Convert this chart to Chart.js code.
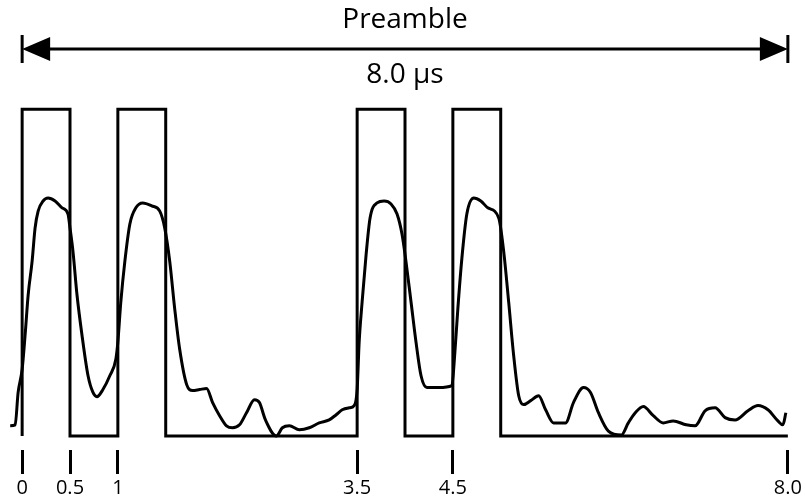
<!DOCTYPE html>
<html lang="en">
<head>
    <meta charset="UTF-8">
    <title>Preamble</title>
    <script src="https://cdn.jsdelivr.net/npm/chart.js"></script>
    <style>
        html, body { margin: 0; padding: 0; background: #fff; }
        .wrap { width: 806px; height: 504px; }
    </style>
</head>
<body>
    <div class="wrap">
        <canvas id="preambleChart" width="806" height="504"></canvas>
    </div>
    <script>
        // square pulse train (time in µs, level 0..1)
        const squareTime  = [0, 0, 0.5, 0.5, 1, 1, 1.5, 1.5, 3.5, 3.5, 4, 4, 4.5, 4.5, 5, 5, 8];
        const squareLevel = [0, 1, 1,   0,   0, 1, 1,   0,   0,   1,   1, 0, 0,   1,   1, 0, 0];

        // received waveform
        const waveTime = [-0.125, -0.073, -0.042, 0, 0.031, 0.063, 0.104, 0.135, 0.167, 0.219, 0.271, 0.344,
            0.417, 0.479, 0.5, 0.531, 0.573, 0.625, 0.688, 0.740, 0.781, 0.844, 0.917, 0.979, 1.0, 1.031,
            1.073, 1.125, 1.188, 1.260, 1.354, 1.438, 1.490, 1.542, 1.594, 1.646, 1.719, 1.781, 1.854, 1.927,
            1.990, 2.063, 2.135, 2.198, 2.271, 2.344, 2.427, 2.479, 2.542, 2.656, 2.719, 2.792, 2.896, 3.0,
            3.104, 3.208, 3.281, 3.344, 3.417, 3.469, 3.5, 3.521, 3.552, 3.594, 3.635, 3.708, 3.781, 3.854,
            3.917, 3.969, 4.010, 4.063, 4.115, 4.167, 4.229, 4.354, 4.490, 4.521, 4.552, 4.594, 4.646, 4.719,
            4.792, 4.865, 4.979, 5.031, 5.083, 5.135, 5.188, 5.240, 5.313, 5.396, 5.469, 5.552, 5.677, 5.760,
            5.865, 5.938, 6.021, 6.125, 6.260, 6.333, 6.406, 6.490, 6.594, 6.698, 6.802, 6.938, 7.031, 7.135,
            7.240, 7.344, 7.448, 7.583, 7.688, 7.792, 7.896, 7.948, 7.979];
        const waveAmp = [0.031, 0.034, 0.133, 0.204, 0.309, 0.432, 0.534, 0.636, 0.688, 0.719, 0.728, 0.719,
            0.698, 0.679, 0.636, 0.565, 0.432, 0.309, 0.185, 0.133, 0.120, 0.142, 0.185, 0.235, 0.287, 0.410,
            0.534, 0.648, 0.698, 0.713, 0.704, 0.688, 0.636, 0.534, 0.389, 0.265, 0.157, 0.139, 0.142, 0.145,
            0.102, 0.062, 0.031, 0.025, 0.034, 0.071, 0.111, 0.102, 0.049, 0.0, 0.025, 0.031, 0.019, 0.025,
            0.040, 0.049, 0.065, 0.080, 0.086, 0.093, 0.142, 0.287, 0.410, 0.556, 0.667, 0.713, 0.719, 0.710,
            0.679, 0.617, 0.534, 0.410, 0.287, 0.185, 0.148, 0.148, 0.154, 0.256, 0.389, 0.543, 0.679, 0.728,
            0.719, 0.698, 0.667, 0.565, 0.410, 0.247, 0.123, 0.096, 0.108, 0.123, 0.080, 0.040, 0.040, 0.102,
            0.148, 0.133, 0.071, 0.015, 0.003, 0.040, 0.071, 0.090, 0.062, 0.040, 0.046, 0.034, 0.031, 0.077,
            0.086, 0.056, 0.049, 0.077, 0.093, 0.080, 0.046, 0.034, 0.071];

        const tickValues = [0, 0.5, 1, 3.5, 4.5, 8];
        const tickLabels = ['0', '0.5', '1', '3.5', '4.5', '8.0'];

        const titleText = 'Preamble';
        const spanText = '8.0 \u00b5s';
        const spanStart = 0;
        const spanEnd = 8;

        const FONT = '"Open Sans", sans-serif';

        // header: title, double arrow over the preamble span, duration
        const headerPlugin = {
            id: 'header',
            afterDraw(chart) {
                const ctx = chart.ctx;
                const x = chart.scales.x;
                const x0 = x.getPixelForValue(spanStart);
                const x1 = x.getPixelForValue(spanEnd);
                const yArrow = 49;
                ctx.save();
                ctx.fillStyle = '#000';
                ctx.strokeStyle = '#000';
                ctx.textAlign = 'center';
                ctx.textBaseline = 'alphabetic';
                ctx.font = '28px ' + FONT;
                ctx.fillText(titleText, (x0 + x1) / 2, 28);
                ctx.font = '28px ' + FONT;
                ctx.fillText(spanText, (x0 + x1) / 2, 83);

                ctx.lineWidth = 3;
                ctx.beginPath();
                ctx.moveTo(x0 + 20, yArrow);
                ctx.lineTo(x1 - 20, yArrow);
                ctx.stroke();
                // end bars
                ctx.beginPath();
                ctx.moveTo(x0, yArrow - 14);
                ctx.lineTo(x0, yArrow + 14);
                ctx.moveTo(x1, yArrow - 14);
                ctx.lineTo(x1, yArrow + 14);
                ctx.stroke();
                // heads
                ctx.beginPath();
                ctx.moveTo(x0, yArrow);
                ctx.lineTo(x0 + 28, yArrow - 12);
                ctx.lineTo(x0 + 28, yArrow + 12);
                ctx.closePath();
                ctx.moveTo(x1, yArrow);
                ctx.lineTo(x1 - 28, yArrow - 12);
                ctx.lineTo(x1 - 28, yArrow + 12);
                ctx.closePath();
                ctx.fill();
                ctx.restore();
            }
        };

        const ctxPreamble = document.getElementById('preambleChart').getContext('2d');
        const preambleChart = new Chart(ctxPreamble, {
            type: 'line',
            data: {
                datasets: [{
                    label: 'Pulses',
                    data: squareTime.map((t, i) => ({ x: t, y: squareLevel[i] })),
                    borderColor: '#000',
                    borderWidth: 3,
                    pointRadius: 0,
                    tension: 0,
                    borderJoinStyle: 'miter'
                }, {
                    label: 'Signal',
                    data: waveTime.map((t, i) => ({ x: t, y: waveAmp[i] })),
                    borderColor: '#000',
                    borderWidth: 3,
                    pointRadius: 0,
                    cubicInterpolationMode: 'monotone'
                }]
            },
            options: {
                responsive: false,
                animation: false,
                layout: {
                    padding: { left: 3, right: 6, top: 100, bottom: 2 }
                },
                plugins: {
                    legend: { display: false },
                    tooltip: { enabled: false }
                },
                scales: {
                    x: {
                        type: 'linear',
                        min: -0.2,
                        max: 8.1,
                        border: { display: false },
                        grid: {
                            drawOnChartArea: false,
                            drawTicks: true,
                            tickLength: 24,
                            tickWidth: 3,
                            tickColor: '#000'
                        },
                        afterBuildTicks: (scale) => {
                            scale.ticks = tickValues.map(v => ({ value: v }));
                        },
                        ticks: {
                            autoSkip: false,
                            maxRotation: 0,
                            padding: 4,
                            color: '#000',
                            font: { family: FONT, size: 20, lineHeight: 1.0 },
                            callback: (value, index) => tickLabels[index]
                        }
                    },
                    y: {
                        display: false,
                        min: -0.043,
                        max: 1.028
                    }
                }
            },
            plugins: [headerPlugin]
        });
    </script>
</body>
</html>
